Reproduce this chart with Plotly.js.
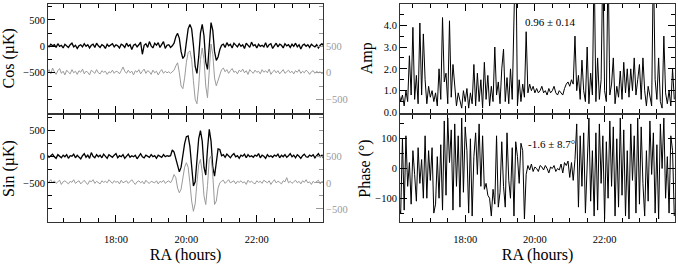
<!DOCTYPE html>
<html>
<head>
<meta charset="utf-8">
<script src="https://cdn.plot.ly/plotly-3.0.1.min.js"></script>
<style>html,body{margin:0;padding:0;background:#fff;}#chart{width:678px;height:266px;}</style>
</head>
<body>
<div id="chart"></div>
<script>
// Sampling grid of right ascension (hours)
const raStart = 16.05;
const raStep = 0.05;

// Cos component (µK), black trace (left axis)
const cosBlack = [
  20, -10, 40, 10, 30, -20, 50, 0, 20, -30,
  40, 10, -20, 30, 60, -10, 20, -40, 10, 30,
  -10, 50, 0, 30, -30, 20, 40, -20, 60, 10,
  -20, 30, 10, -40, 40, 0, 20, 50, -10, 30,
  10, -30, 40, 20, -20, 60, 0, 30, -60, 20,
  40, -10, 30, 80, -150, 20, 50, -20, 90, 10,
  -30, 60, 20, 70, -20, 40, 90, -40, 20, 30,
  -20, 10, 60, 180, 245, 150, -100, -230, -180, 80,
  330, 415, 330, 20, -380, -510, -200, 250, 415, 200,
  -300, -435, 100, 450, 300, -100, -265, -200, -60, 20,
  40, -20, 70, 10, 40, -30, 60, 20, -10, 50,
  0, 30, -40, 60, 20, -20, 80, 10, 30, -30,
  40, 0, 20, -10, 70, -20, 30, 50, -40, 20,
  60, -10, 40, 20, -30, 50, 10, 30, -20, 40,
  0, 60, -10, 30, -50, 20, 40, 0, 30, -20,
  40, 10, -10, 30, -30, 20, 50, 10, 60, 30
];
// Cos component (µK), grey trace (right axis)
const cosGrey = [
  0, 60, -20, 90, 20, -30, 40, 80, -10, 30,
  -40, 50, 10, -20, 60, 0, 30, -30, 40, 10,
  70, -20, 30, 10, -40, 50, 20, -10, 60, 0,
  -20, 40, 10, 30, -30, 20, 0, 50, -10, 30,
  20, -20, 40, 110, 30, -10, 50, 0, 30, -40,
  40, 10, 60, -20, 30, 70, -10, 40, 20, -30,
  50, 0, 30, -40, 20, 60, -10, 30, 0, 20,
  -10, 20, 50, 130, 190, 0, -250, -300, -100, 200,
  380, 415, 250, -150, -500, -585, -250, 250, 470, 250,
  -250, -470, 0, 545, 350, -100, -245, -150, -20, 60,
  90, 20, 60, -10, 40, 80, 10, 30, -20, 50,
  20, 70, 0, 40, -30, 60, 20, -10, 50, 10,
  30, -20, 60, 10, 40, 0, 70, -30, 20, 50,
  0, 40, -20, 30, 60, -10, 20, 50, 0, 30,
  -20, 40, 10, 60, -10, 30, 0, 50, 20, -30,
  20, 40, -10, 30, 0, 20, -20, 30, 10, 0
];
// Sin component (µK), black trace (left axis)
const sinBlack = [
  30, -10, 20, 50, 0, -30, 40, 10, -20, 30,
  0, 40, -30, 20, 10, 50, -20, 30, 0, -40,
  20, 60, -10, 30, -30, 80, 10, -20, 40, 0,
  30, -20, 50, 10, -30, 40, 20, -10, 30, 60,
  -20, 20, 0, 40, -30, 10, 50, -10, 20, 0,
  30, -40, 20, 60, 0, -20, 30, 10, -10, 40,
  0, 20, -30, 30, 10, -10, 40, 0, 20, 10,
  20, 130, 90, -50, -200, -290, -200, 50, 250, 385,
  400, 200, -200, -560, -480, -50, 350, 500, 300, -200,
  -350, 150, 525, 300, -200, -370, -100, 150, 140, 20,
  40, -10, 50, 20, -20, 30, 60, 0, 20, -30,
  30, 10, 50, -20, 40, 0, 20, -10, 30, 10,
  60, -20, 30, 10, -30, 40, 0, 20, -10, 30,
  10, 50, -20, 30, 0, 40, -10, 20, 60, 0,
  30, -20, 40, 10, -30, 20, 50, 0, -10, 30,
  10, 40, -20, 20, 60, 0, 30, -30, 40, 20
];
// Sin component (µK), grey trace (right axis)
const sinGrey = [
  -20, 30, 60, 0, 40, -10, 20, 50, -30, 20,
  40, 0, -20, 30, 10, 60, -10, 20, 40, -20,
  10, 50, 0, -30, 40, 20, 60, -10, 30, 0,
  -20, 40, 10, 30, 0, 60, 20, -10, 40, 10,
  30, -20, 50, 0, 20, 40, -10, 30, 60, 10,
  -30, 20, 40, 0, 30, -20, 50, 10, -10, 30,
  20, 0, 40, -20, 30, 10, 50, -10, 20, 40,
  0, 60, 160, 100, -100, -190, -120, 100, 300, 385,
  300, 0, -350, -545, -400, 0, 350, 450, 200, -250,
  -415, -50, 450, 515, 150, -415, -350, -100, 0, 30,
  50, -10, 30, 60, 0, 20, 40, -20, 30, 10,
  40, 0, 20, -30, 50, 10, 30, 0, -20, 40,
  10, 30, -10, 50, 20, 0, 40, -30, 20, 60,
  0, 30, 10, -20, 40, 20, 100, 0, 30, -10,
  20, 50, 0, 30, -20, 40, 10, 60, 0, 20,
  -30, 30, 0, 20, 50, -20, 30, 0, -40, -60
];
// Amplitude ratio
const amp = [
  0.6, 0.9, 0.5, 0.8, 0.3, 1.0, 0.5, 2.6, 0.8, 3.9,
  0.6, 1.7, 0.4, 4.1, 0.8, 3.6, 1.5, 0.4, 1.2, 0.7,
  1.0, 0.5, 0.9, 0.3, 2.0, 0.6, 4.35, 1.4, 1.8, 0.4,
  4.2, 0.7, 2.2, 1.4, 0.3, 0.9, 0.6, 0.2, 1.0, 0.5,
  1.1, 0.2, 0.9, 0.4, 2.2, 0.3, 1.8, 0.5, 1.5, 0.2,
  2.3, 0.6, 1.7, 0.3, 1.2, 0.5, 3.0, 0.8, 1.4, 0.4,
  2.0, 2.9, 0.5, 1.6, 0.4, 2.0, 0.6, 4.0, 8.0, 0.3,
  1.5, 0.5, 1.3, 0.7, 3.7, 0.9, 1.3, 1.0, 1.2, 0.9,
  1.1, 0.9, 1.0, 1.2, 0.9, 1.0, 0.8, 1.1, 0.9, 1.0,
  1.2, 0.9, 0.8, 1.0, 0.9, 0.8, 1.1, 1.3, 1.4, 1.2,
  1.5, 1.3, 3.5, 1.0, 1.7, 0.6, 2.4, 1.0, 0.5, 3.0,
  0.4, 1.8, 0.8, 7.0, 0.5, 2.5, 0.6, 1.5, 7.0, 1.0,
  0.5, 7.0, 0.8, 1.3, 2.5, 0.4, 1.2, 0.7, 1.9, 0.6,
  2.3, 0.9, 2.0, 0.7, 2.0, 1.0, 2.5, 0.8, 1.5, 2.2,
  0.6, 2.5, 1.0, 0.3, 1.2, 0.8, 0.3, 7.0, 1.5, 0.6,
  2.5, 0.5, 0.2, 3.5, 0.9, 0.4, 1.0, 0.3, 2.0, 0.6
];
// Phase (degrees)
const phase = [
  -40, -130, -150, 100, -140, 110, -60, 20, -120, 60,
  -20, -110, 70, -50, 30, -100, 110, -100, 60, -40,
  70, -150, -120, 40, -100, 80, -140, 160, -90, 170,
  20, 130, -140, 150, -60, 110, -130, 170, -80, 140,
  60, -150, 100, -160, 40, 120, -20, 150, -60, 110,
  -70, -50, -90, -100, -160, -70, -120, 110, -130, -80,
  90, -60, -130, 120, -40, -100, 70, -160, 90, 40,
  -50, 85, 60, -170, -20, 10, -5, 15, -10, 5,
  0, -10, 10, 5, -5, 10, 0, -15, 5, 0,
  10, -10, 0, -5, 15, -15, 20, 10, 25, -30,
  20, -40, 30, 150, -130, 110, -60, 120, -150, 40,
  170, -110, 60, -160, 120, -140, 150, -50, 110, -170,
  90, -100, 160, -60, 140, -160, 100, -130, 170, -90,
  130, -160, 60, -170, 150, -40, 110, -150, 170, -120,
  140, -50, -160, 60, -110, 160, -20, 120, -150, 80,
  -170, 150, 0, 170, -100, 40, -150, 110, 60, -160
];
// Tick labels
const raTickVals = [18, 20, 22];
const raTickText = ['18:00', '20:00', '22:00'];
const uKTickVals = [-500, 0, 500];
const ampTickVals = [0, 1, 2, 3, 4];
const ampTickText = ['0.0', '1.0', '2.0', '3.0', '4.0'];
const phaseTickVals = [-100, 0, 100];
const ampNote = '0.96 ± 0.14';
const phaseNote = '-1.6 ± 8.7°';

const ra = cosBlack.map((_, i) => +(raStart + i * raStep).toFixed(2));

const W = 678, H = 266;
const X = p => p / W;
const Y = p => 1 - p / H;
const FONT = "'Liberation Serif', 'Times New Roman', Times, serif";
const GREY = '#9a9a9a';
const FRAME = '#333';
const TICKSIZE = 10.5;
const TITLESIZE = 16;

const traces = [
  {x: ra, y: cosBlack, xaxis: 'x', yaxis: 'y', mode: 'lines', line: {color: '#000', width: 1.3}},
  {x: ra, y: cosGrey, xaxis: 'x', yaxis: 'y2', mode: 'lines', line: {color: GREY, width: 1}},
  {x: ra, y: sinBlack, xaxis: 'x2', yaxis: 'y3', mode: 'lines', line: {color: '#000', width: 1.3}},
  {x: ra, y: sinGrey, xaxis: 'x2', yaxis: 'y4', mode: 'lines', line: {color: GREY, width: 1}},
  {x: ra, y: amp, xaxis: 'x3', yaxis: 'y5', mode: 'lines', line: {color: '#000', width: 1}},
  {x: ra, y: phase, xaxis: 'x4', yaxis: 'y6', mode: 'lines', line: {color: '#000', width: 1}}
];

function xAx(domain, range, anchor, labels) {
  return {
    domain: domain, range: range, anchor: anchor,
    tickmode: 'array', tickvals: raTickVals, ticktext: raTickText,
    showticklabels: labels, ticks: 'inside', ticklen: 7, tickcolor: '#000', tickwidth: 1,
    ticklabelstandoff: 7,
    minor: {tickmode: 'linear', tick0: 0, dtick: 0.5, ticks: 'inside', ticklen: 4, tickcolor: '#000', showgrid: false},
    showline: true, linecolor: FRAME, linewidth: 1, mirror: 'ticks',
    showgrid: false, zeroline: false,
    tickfont: {family: FONT, size: TICKSIZE, color: '#000'},
    title: labels ? {text: 'RA (hours)', font: {family: FONT, size: TITLESIZE, color: '#000'}, standoff: 5} : {text: ''}
  };
}
function yLeft(domain, range, title, vals, text, minorStep, mirror) {
  const o = {
    domain: domain, range: range,
    tickmode: 'array', tickvals: vals,
    ticks: 'inside', ticklen: 7, tickcolor: '#000', tickwidth: 1,
    minor: {tickmode: 'linear', tick0: 0, dtick: minorStep, ticks: 'inside', ticklen: 4, tickcolor: '#000', showgrid: false},
    showline: true, linecolor: FRAME, linewidth: 1, mirror: mirror,
    showgrid: false, zeroline: false,
    tickfont: {family: FONT, size: TICKSIZE, color: '#000'},
    title: {text: title, font: {family: FONT, size: TITLESIZE, color: '#000'}, standoff: 7}
  };
  if (text) o.ticktext = text;
  return o;
}
function yRight(over, range) {
  return {
    overlaying: over, side: 'right', range: range,
    tickmode: 'array', tickvals: uKTickVals,
    ticks: 'inside', ticklen: 7, tickcolor: GREY, tickwidth: 1,
    minor: {tickmode: 'linear', tick0: 0, dtick: 250, ticks: 'inside', ticklen: 4, tickcolor: GREY, showgrid: false},
    showline: true, linecolor: FRAME, linewidth: 1,
    showgrid: false, zeroline: false,
    tickfont: {family: FONT, size: TICKSIZE, color: GREY}
  };
}

const topDom = [Y(112.5), Y(4)];
const botDom = [Y(222), Y(115)];
const leftDom = [X(48), X(323)];
const rightDom = [X(400), X(675)];

const yA = yLeft(topDom, [-1250, 800], 'Cos (µK)', uKTickVals, null, 250, false); yA.anchor = 'x';
const yB = yLeft(botDom, [-1250, 800], 'Sin (µK)', uKTickVals, null, 250, false); yB.anchor = 'x2';
const yC = yLeft(topDom, [0, 4.97], 'Amp', ampTickVals, ampTickText, 0.5, 'ticks'); yC.anchor = 'x3';
const yD = yLeft(botDom, [-180, 180], 'Phase (°)', phaseTickVals, null, 50, 'ticks'); yD.anchor = 'x4';
yD.title.standoff = 0;
const y2 = yRight('y', [-750, 1300]); y2.anchor = 'x';
const y4 = yRight('y3', [-750, 1300]); y4.anchor = 'x2';

const layout = {
  width: W, height: H,
  margin: {l: 0, r: 0, t: 0, b: 0},
  paper_bgcolor: '#fff', plot_bgcolor: '#fff',
  showlegend: false,
  font: {family: FONT, size: TICKSIZE, color: '#000'},
  xaxis: xAx(leftDom, [16.07, 23.88], 'y', false),
  xaxis2: xAx(leftDom, [16.07, 23.88], 'y3', true),
  xaxis3: xAx(rightDom, [16.13, 24.02], 'y5', false),
  xaxis4: xAx(rightDom, [16.13, 24.02], 'y6', true),
  yaxis: yA, yaxis2: y2, yaxis3: yB, yaxis4: y4, yaxis5: yC, yaxis6: yD,
  annotations: [
    {text: ampNote, xref: 'paper', yref: 'paper', x: X(550), y: Y(22), showarrow: false,
     xanchor: 'center', yanchor: 'middle', font: {family: FONT, size: 11, color: '#000'}},
    {text: phaseNote, xref: 'paper', yref: 'paper', x: X(551), y: Y(144), showarrow: false,
     xanchor: 'center', yanchor: 'middle', font: {family: FONT, size: 11, color: '#000'}}
  ]
};

Plotly.newPlot('chart', traces, layout, {staticPlot: true, displayModeBar: false});
</script>
</body>
</html>
